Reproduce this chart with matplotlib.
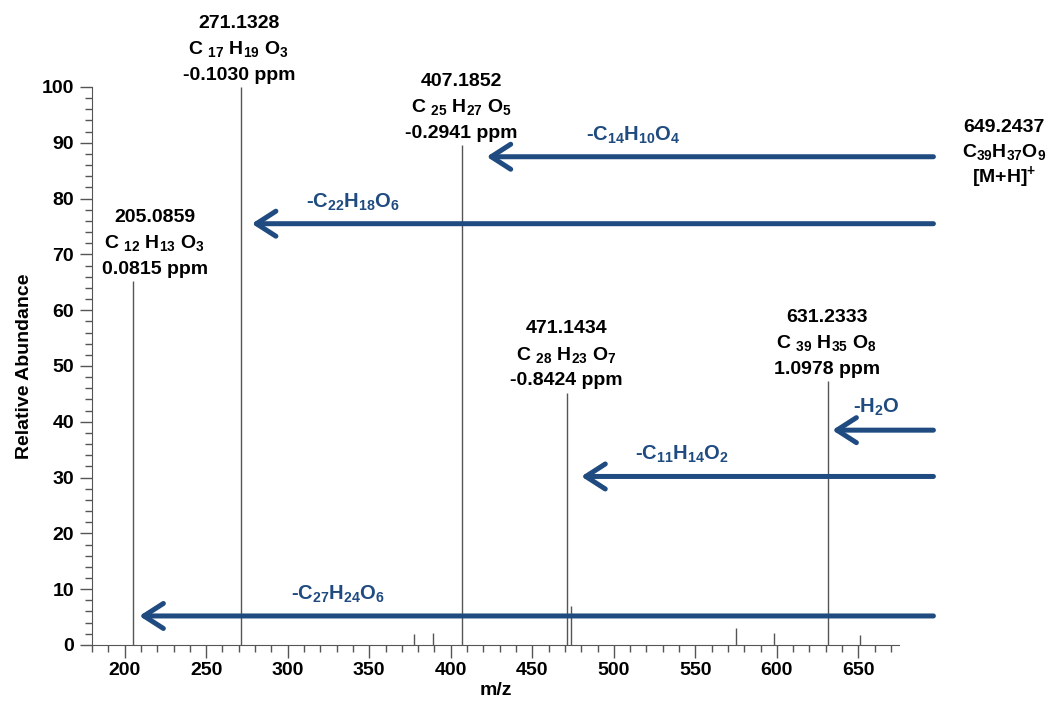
import matplotlib
matplotlib.use("Agg")
import matplotlib.pyplot as plt
import matplotlib.ticker as ticker

plt.rcParams["font.family"] = ["Liberation Sans", "DejaVu Sans"]
plt.rcParams["font.weight"] = "bold"
plt.rcParams["mathtext.fontset"] = "custom"
plt.rcParams["mathtext.bf"] = "Liberation Sans:bold"
plt.rcParams["mathtext.rm"] = "Liberation Sans:bold"
plt.rcParams["mathtext.default"] = "bf"

# spectrum peaks (m/z, relative abundance)
mz = [205.0859, 271.1328, 377.2, 389.0, 407.1852, 471.1434, 473.5, 574.8, 598.0, 631.2333, 650.8]
abundance = [65.2, 100, 2.0, 2.2, 89.6, 45.2, 7.0, 3.0, 2.2, 47.3, 1.8]

# annotated peaks
label_mz = [205.0859, 271.1328, 407.1852, 471.1434, 631.2333]
label_ab = [65.2, 100, 89.6, 45.2, 47.3]
label_x = [218.5, 270.0, 406.5, 471.0, 630.5]
label_formula = [r"C ${}_{12}$ H${}_{13}$ O${}_{3}$",
                 r"C ${}_{17}$ H${}_{19}$ O${}_{3}$",
                 r"C ${}_{25}$ H${}_{27}$ O${}_{5}$",
                 r"C ${}_{28}$ H${}_{23}$ O${}_{7}$",
                 r"C ${}_{39}$ H${}_{35}$ O${}_{8}$"]
label_ppm = ["0.0815 ppm", "-0.1030 ppm", "-0.2941 ppm", "-0.8424 ppm", "1.0978 ppm"]

# neutral losses from [M+H]+
loss_start = 696
loss_end = [422, 278, 634, 480, 209]
loss_y = [87.5, 75.5, 38.5, 30.2, 5.2]
loss_text = [r"-C$_{14}$H$_{10}$O$_4$", r"-C$_{22}$H$_{18}$O$_6$", r"-H$_2$O",
             r"-C$_{11}$H$_{14}$O$_2$", r"-C$_{27}$H$_{24}$O$_6$"]
loss_text_x = [512, 340, 661, 542, 331]
loss_text_y = [91.3, 79.3, 42.5, 34.2, 9.0]

blue = "#1f4b80"
gray = "#555555"

fig = plt.figure(figsize=(10.48, 7.09), dpi=100)
ax = fig.add_axes([0.0878, 0.0903, 0.7702, 0.787])

ax.vlines(mz, 0, abundance, color=gray, lw=1.0)

for m, x, h, f, p in zip(label_mz, label_x, label_ab, label_formula, label_ppm):
    lines = ["%.4f" % m, f, p]
    for i, t in enumerate(lines):
        ax.annotate(t, xy=(x, h), xytext=(0, 8.6 + (2 - i) * 18.7),
                    textcoords="offset points", ha="center", va="center",
                    fontsize=14, fontweight="bold", annotation_clip=False)

for x1, y, t, tx, ty in zip(loss_end, loss_y, loss_text, loss_text_x, loss_text_y):
    ax.annotate("", xy=(x1, y), xytext=(loss_start, y), annotation_clip=False,
                arrowprops=dict(arrowstyle="->,head_length=0.7,head_width=0.45",
                                lw=3.6, color=blue, mutation_scale=20,
                                shrinkA=0, shrinkB=0))
    ax.text(tx, ty, t, ha="center", va="center", color=blue, fontsize=14.5,
            fontweight="bold", clip_on=False)

# precursor label
ax.text(739.4, 92.8, "649.2437", ha="center", va="center", fontsize=14, fontweight="bold", clip_on=False)
ax.text(739.4, 88.4, r"C$_{39}$H$_{37}$O$_9$", ha="center", va="center", fontsize=14, clip_on=False)
ax.text(739.4, 83.9, r"[M+H]$^{+}$", ha="center", va="center", fontsize=14, clip_on=False)

ax.set_xlim(180, 675)
ax.set_ylim(0, 100)
ax.xaxis.set_major_locator(ticker.MultipleLocator(50))
ax.xaxis.set_minor_locator(ticker.MultipleLocator(10))
ax.yaxis.set_major_locator(ticker.MultipleLocator(10))
ax.yaxis.set_minor_locator(ticker.MultipleLocator(2))
ax.tick_params(which="both", direction="out", color=gray, labelsize=14)
ax.tick_params(which="major", length=9, width=1)
ax.tick_params(which="minor", length=5, width=1)
ax.tick_params(axis="y", which="major", pad=4)
ax.set_xticks([200, 250, 300, 350, 400, 450, 500, 550, 600, 650])
for lab in ax.get_xticklabels() + ax.get_yticklabels():
    lab.set_fontweight("bold")

for s in ["top", "right"]:
    ax.spines[s].set_visible(False)
for s in ["left", "bottom"]:
    ax.spines[s].set_color(gray)

ax.set_xlabel("m/z", fontsize=14, fontweight="bold", labelpad=2)
ax.set_ylabel("Relative Abundance", fontsize=14, fontweight="bold", labelpad=6)

fig.savefig("out.png", dpi=100)
